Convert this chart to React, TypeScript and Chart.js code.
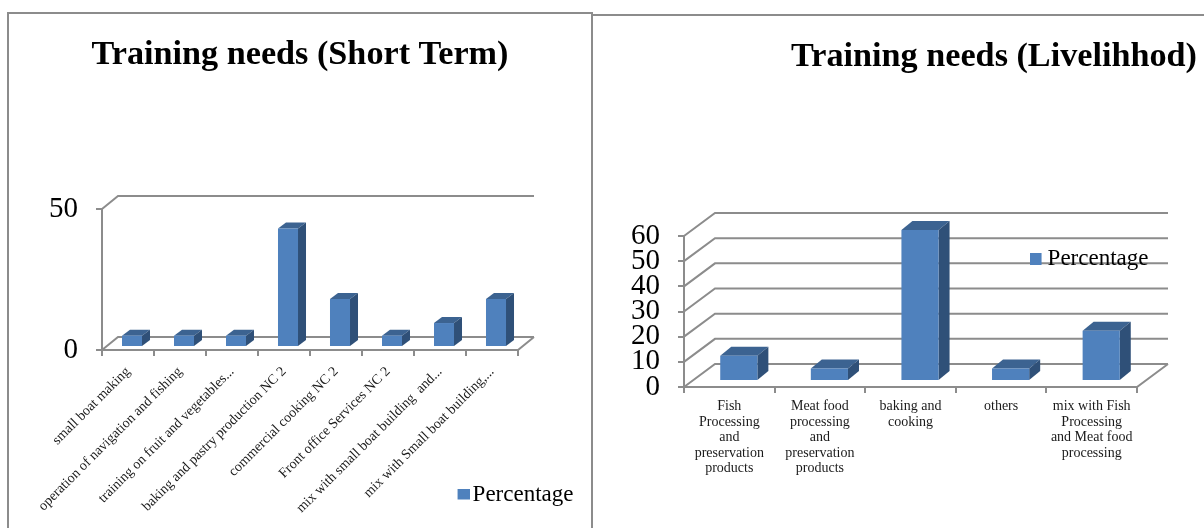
import React, { useEffect, useRef } from "react";
import { Chart, registerables } from "chart.js";

Chart.register(...registerables);

const seriesName = "Percentage";

const shortTermTitle = "Training needs (Short Term)";
const shortTermCategories = [
  "small boat making",
  "operation of navigation and fishing",
  "training on fruit and vegetables...",
  "baking and pastry production NC 2",
  "commercial cooking NC 2",
  "Front office Services NC 2",
  "mix with small boat building  and...",
  "mix with Small boat building,...",
];
const shortTermValues = [4, 4, 4, 42, 17, 4, 8.5, 17];

const livelihoodTitle = "Training needs (Livelihhod)";
const livelihoodCategories = [
  ["Fish", "Processing", "and", "preservation", "products"],
  ["Meat food", "processing", "and", "preservation", "products"],
  ["baking and", "cooking"],
  ["others"],
  ["mix with Fish", "Processing", "and Meat food", "processing"],
];
const livelihoodValues = [10, 5, 60, 5, 20];

const FRONT = "#4f81bd";
const SIDE = "#2f5078";
const TOP = "#3c6391";
const LINE = "#8c8c8c";
const SERIF = "'Liberation Serif', serif";

type Cfg = {
  title: string;
  labels: any[];
  values: number[];
  max: number;
  step: number;
  width: number;
  area: { left: number; right: number; top: number; bottom: number };
  wall: [number, number];
  barDepth: [number, number];
  barShift: [number, number];
  barPct: number;
  rotation: number;
  tickFont: number;
  tickPad: number;
  yFont: number;
  yPad: number;
  titleCenter: number;
  titleY: number;
  titleFont: number;
  legendAt: [number, number];
  legendFont: number;
  swatch: { w: number; h: number; x: number; size: [number, number] };
};

function swatchImage(s: Cfg["swatch"]) {
  const cv = document.createElement("canvas");
  cv.width = s.w;
  cv.height = s.h;
  const g = cv.getContext("2d")!;
  g.fillStyle = FRONT;
  g.fillRect(s.x, 0, s.size[0], s.size[1]);
  return cv;
}

function make3dPlugin(c: Cfg) {
  return {
    id: "threeD",
    afterLayout(chart: any) {
      const t = chart.titleBlock;
      t.left = c.titleCenter - 400;
      t.right = c.titleCenter + 400;
      const l = chart.legend;
      l.left = c.legendAt[0];
      l.top = c.legendAt[1];
      l.right = c.legendAt[0] + 200;
      l.bottom = c.legendAt[1] + 40;
    },
    beforeDraw(chart: any) {
      const { ctx, chartArea: a } = chart;
      const y = chart.scales.y;
      const [dx, dy] = c.wall;
      ctx.save();
      ctx.strokeStyle = LINE;
      ctx.lineWidth = 2;
      ctx.beginPath();
      y.ticks.forEach((_: any, i: number) => {
        const py = y.getPixelForTick(i);
        ctx.moveTo(a.left, py);
        ctx.lineTo(a.left + dx, py - dy);
        ctx.lineTo(a.right + dx, py - dy);
      });
      ctx.moveTo(a.left, a.bottom);
      ctx.lineTo(a.right, a.bottom);
      ctx.lineTo(a.right + dx, a.bottom - dy);
      ctx.stroke();
      ctx.restore();
    },
    beforeDatasetsDraw(chart: any) {
      const { ctx } = chart;
      ctx.save();
      ctx.translate(c.barShift[0], c.barShift[1]);
      const [bx, by] = c.barDepth;
      chart.getDatasetMeta(0).data.forEach((b: any) => {
        const l = b.x - b.width / 2;
        const r = b.x + b.width / 2;
        ctx.fillStyle = TOP;
        ctx.beginPath();
        ctx.moveTo(l, b.y);
        ctx.lineTo(l + bx, b.y - by);
        ctx.lineTo(r + bx, b.y - by);
        ctx.lineTo(r, b.y);
        ctx.closePath();
        ctx.fill();
        ctx.fillStyle = SIDE;
        ctx.beginPath();
        ctx.moveTo(r, b.y);
        ctx.lineTo(r + bx, b.y - by);
        ctx.lineTo(r + bx, b.base - by);
        ctx.lineTo(r, b.base);
        ctx.closePath();
        ctx.fill();
      });
    },
    afterDatasetsDraw(chart: any) {
      chart.ctx.restore();
    },
  };
}

function make(canvas: HTMLCanvasElement, c: Cfg) {
  const titleLh = c.titleFont * 1.2;
  const titleTop = c.titleY - titleLh / 2;
  return new Chart(canvas, {
    type: "bar",
    data: {
      labels: c.labels,
      datasets: [
        {
          label: seriesName,
          data: c.values,
          backgroundColor: FRONT,
          barPercentage: c.barPct,
          categoryPercentage: 1,
        },
      ],
    },
    plugins: [make3dPlugin(c)],
    options: {
      responsive: false,
      animation: false,
      devicePixelRatio: 1,
      layout: { padding: { left: 0, right: c.width - c.area.right, top: 0, bottom: 0 } },
      plugins: {
        tooltip: { enabled: false },
        title: {
          display: true,
          text: c.title,
          color: "#000",
          font: { family: SERIF, size: c.titleFont, weight: "bold", lineHeight: 1.2 },
          padding: { top: titleTop, bottom: c.area.top - titleTop - titleLh },
        },
        legend: {
          display: true,
          position: "chartArea",
          align: "start",
          labels: {
            color: "#000",
            usePointStyle: true,
            pointStyle: swatchImage(c.swatch),
            pointStyleWidth: 0.1,
            padding: 6,
            font: { family: SERIF, size: c.legendFont },
          },
        },
      },
      scales: {
        x: {
          afterFit(s: any) {
            s.height = 528 - c.area.bottom;
            s.paddingLeft = 0;
            s.paddingRight = 0;
          },
          border: { display: false },
          grid: { drawOnChartArea: false, drawTicks: true, tickLength: 6, color: LINE, lineWidth: 2 },
          ticks: {
            autoSkip: false,
            maxRotation: c.rotation,
            minRotation: c.rotation,
            color: "#1a1a1a",
            padding: c.tickPad,
            font: { family: SERIF, size: c.tickFont, lineHeight: 1.1 },
          },
        },
        y: {
          min: 0,
          max: c.max,
          afterFit(s: any) {
            s.width = c.area.left;
            s.paddingTop = 0;
            s.paddingBottom = 0;
          },
          border: { display: true, color: LINE, width: 2 },
          grid: { drawOnChartArea: false, drawTicks: true, tickLength: 6, color: LINE, lineWidth: 2 },
          ticks: {
            autoSkip: false,
            stepSize: c.step,
            color: "#000",
            padding: c.yPad,
            font: { family: SERIF, size: c.yFont, lineHeight: 1 },
          },
        },
      },
    } as any,
  });
}

export default function App() {
  const leftRef = useRef<HTMLCanvasElement>(null);
  const rightRef = useRef<HTMLCanvasElement>(null);

  useEffect(() => {
    const a = make(leftRef.current!, {
      title: shortTermTitle,
      labels: shortTermCategories,
      values: shortTermValues,
      max: 50,
      step: 50,
      width: 592,
      area: { left: 102, right: 518, top: 209, bottom: 350 },
      wall: [16, 13],
      barDepth: [8, 6],
      barShift: [4, -3],
      barPct: 0.385,
      rotation: 45,
      tickFont: 14,
      tickPad: 8,
      yFont: 29,
      yPad: 18,
      titleCenter: 300,
      titleY: 55,
      titleFont: 34.2,
      legendAt: [455, 477],
      legendFont: 23,
      swatch: { w: 17, h: 12, x: 5, size: [12, 11] },
    });
    const b = make(rightRef.current!, {
      title: livelihoodTitle,
      labels: livelihoodCategories,
      values: livelihoodValues,
      max: 60,
      step: 10,
      width: 612,
      area: { left: 92, right: 545, top: 236, bottom: 387 },
      wall: [31, 23],
      barDepth: [11, 9],
      barShift: [9.5, -6],
      barPct: 0.41,
      rotation: 0,
      tickFont: 14,
      tickPad: 6,
      yFont: 29,
      yPad: 18,
      titleCenter: 402,
      titleY: 57,
      titleFont: 34.2,
      legendAt: [438, 241],
      legendFont: 23,
      swatch: { w: 15, h: 12, x: 0, size: [13, 12] },
    });
    return () => {
      a.destroy();
      b.destroy();
    };
  }, []);

  return (
    <div style={{ position: "absolute", left: 0, top: 0, width: 1204, height: 528, overflow: "hidden", background: "#fff" }}>
      <div style={{ position: "absolute", left: 7, top: 12, width: 586, height: 530, border: "2px solid #8c8c8c", boxSizing: "border-box" }} />
      <div style={{ position: "absolute", left: 592, top: 14, width: 612, height: 2, background: "#8c8c8c" }} />
      <canvas ref={leftRef} width={592} height={528} style={{ position: "absolute", left: 0, top: 0 }} />
      <canvas ref={rightRef} width={612} height={528} style={{ position: "absolute", left: 592, top: 0 }} />
    </div>
  );
}
